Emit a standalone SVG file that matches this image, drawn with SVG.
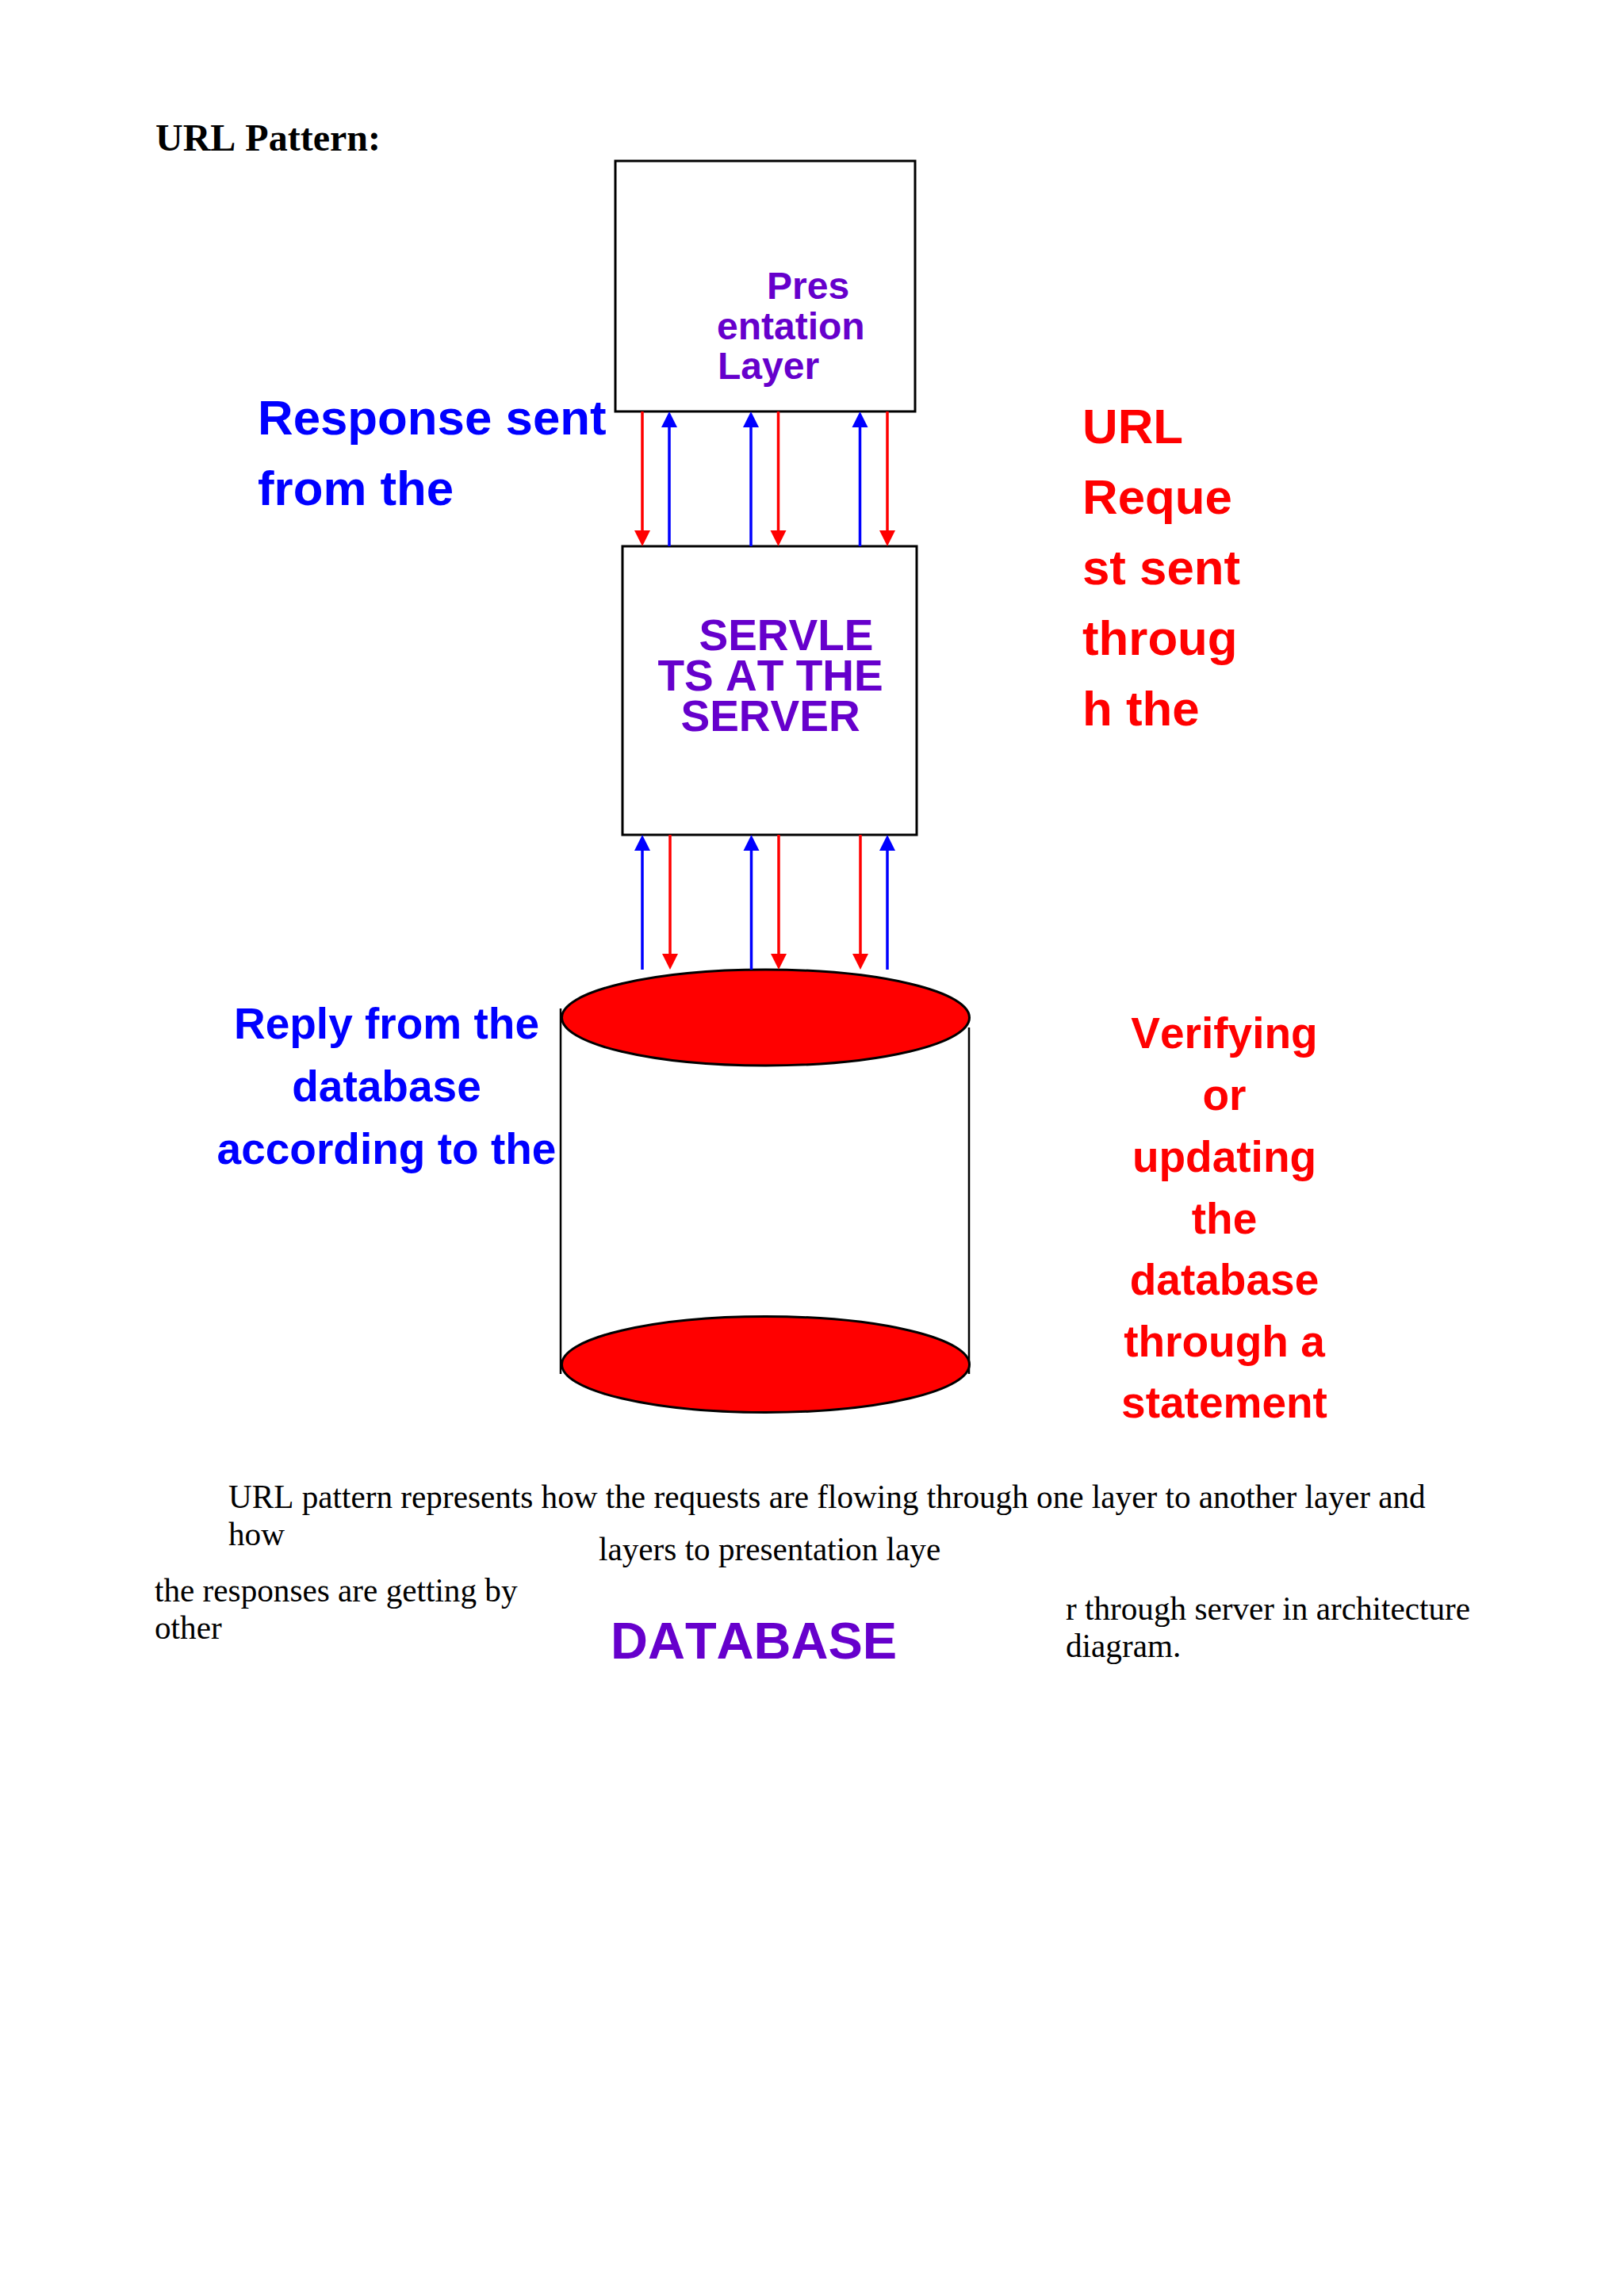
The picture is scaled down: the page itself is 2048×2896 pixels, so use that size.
<svg xmlns="http://www.w3.org/2000/svg" width="2048" height="2896" viewBox="0 0 2048 2896">
<style>
text{font-kerning:none}
.s{font-family:"Liberation Serif","Times New Roman",serif;fill:#000}
.b{font-family:"Liberation Sans",Arial,sans-serif;font-weight:700}
.body{font-size:41.2px}
.p{fill:#6600cc}.bl{fill:#0000ff}.r{fill:#ff0000}
.box{fill:#fff;stroke:#000;stroke-width:3}
.disk{fill:#ff0000;stroke:#000;stroke-width:3}
.side{stroke:#000;stroke-width:2.5;fill:none}
.ar{stroke:#ff0000;stroke-width:3.5;fill:none}
.ab{stroke:#0000ff;stroke-width:3.5;fill:none}
.m{text-anchor:middle}
</style>
<g id="title"><text class="s" x="196" y="190" font-size="48" font-weight="700">URL Pattern:</text></g>
<g id="presentation-layer">
<rect class="box" x="776" y="203" width="378" height="316"/>
<g class="b p" font-size="48"><text x="967" y="377">Pres</text><text x="904" y="428">entation</text><text x="905" y="478">Layer</text></g>
</g>
<g id="servlets">
<rect class="box" x="785" y="689" width="371" height="364"/>
<g class="b p" font-size="55"><text x="881.500" y="820">SERVLE</text><text x="829.500" y="871">TS AT THE</text><text x="858.500" y="922">SERVER</text></g>
</g>
<g id="database">
<path class="side" d="M707 1272V1733M1222 1296V1733"/>
<ellipse class="disk" cx="965.5" cy="1283.5" rx="257" ry="60.5"/>
<ellipse class="disk" cx="965.5" cy="1721" rx="257" ry="60.5"/>
<text class="b p" x="770" y="2092" font-size="65">DATABASE</text>
</g>
<g id="connectors">
<path class="ar" d="M810 519V670M981.500 519V670M1119 519V670M845 1053V1204M982 1053V1204M1085 1053V1204"/>
<path class="ab" d="M844 689V538M947 689V538M1084.500 689V538M810 1223V1072M947.500 1223V1072M1119 1223V1072"/>
<path class="r" d="M800 669h20l-10 20zM971.500 669h20l-10 20zM1109 669h20l-10 20zM835 1203h20l-10 20zM972 1203h20l-10 20zM1075 1203h20l-10 20z"/>
<path class="bl" d="M834 539h20l-10-20zM937 539h20l-10-20zM1074.500 539h20l-10-20zM800 1073h20l-10-20zM937.500 1073h20l-10-20zM1109 1073h20l-10-20z"/>
</g>
<g id="label-response" class="b bl" font-size="61.8"><text x="325" y="548">Response sent</text><text x="325" y="637">from the</text></g>
<g id="label-url-request" class="b r" font-size="61.8"><text x="1365" y="559">URL</text><text x="1365" y="648">Reque</text><text x="1365" y="737">st sent</text><text x="1365" y="826">throug</text><text x="1365" y="915">h the</text></g>
<g id="label-reply" class="b bl m" font-size="55"><text x="487.500" y="1310">Reply from the</text><text x="487.500" y="1389">database</text><text x="487.500" y="1468">according to the</text></g>
<g id="label-verifying" class="b r m" font-size="55"><text x="1544" y="1322">Verifying</text><text x="1544" y="1400">or</text><text x="1544" y="1478">updating</text><text x="1544" y="1556">the</text><text x="1544" y="1633">database</text><text x="1544" y="1711">through a</text><text x="1544" y="1788">statement</text></g>
<g id="body-text" class="s body">
<text x="288" y="1902">URL pattern represents how the requests are flowing through one layer to another layer and</text>
<text x="288" y="1949">how</text>
<text x="755" y="1968">layers to presentation laye</text>
<text x="195" y="2020">the responses are getting by</text>
<text x="195" y="2067">other</text>
<text x="1344" y="2043">r through server in architecture</text>
<text x="1344" y="2090">diagram.</text>
</g>
</svg>
